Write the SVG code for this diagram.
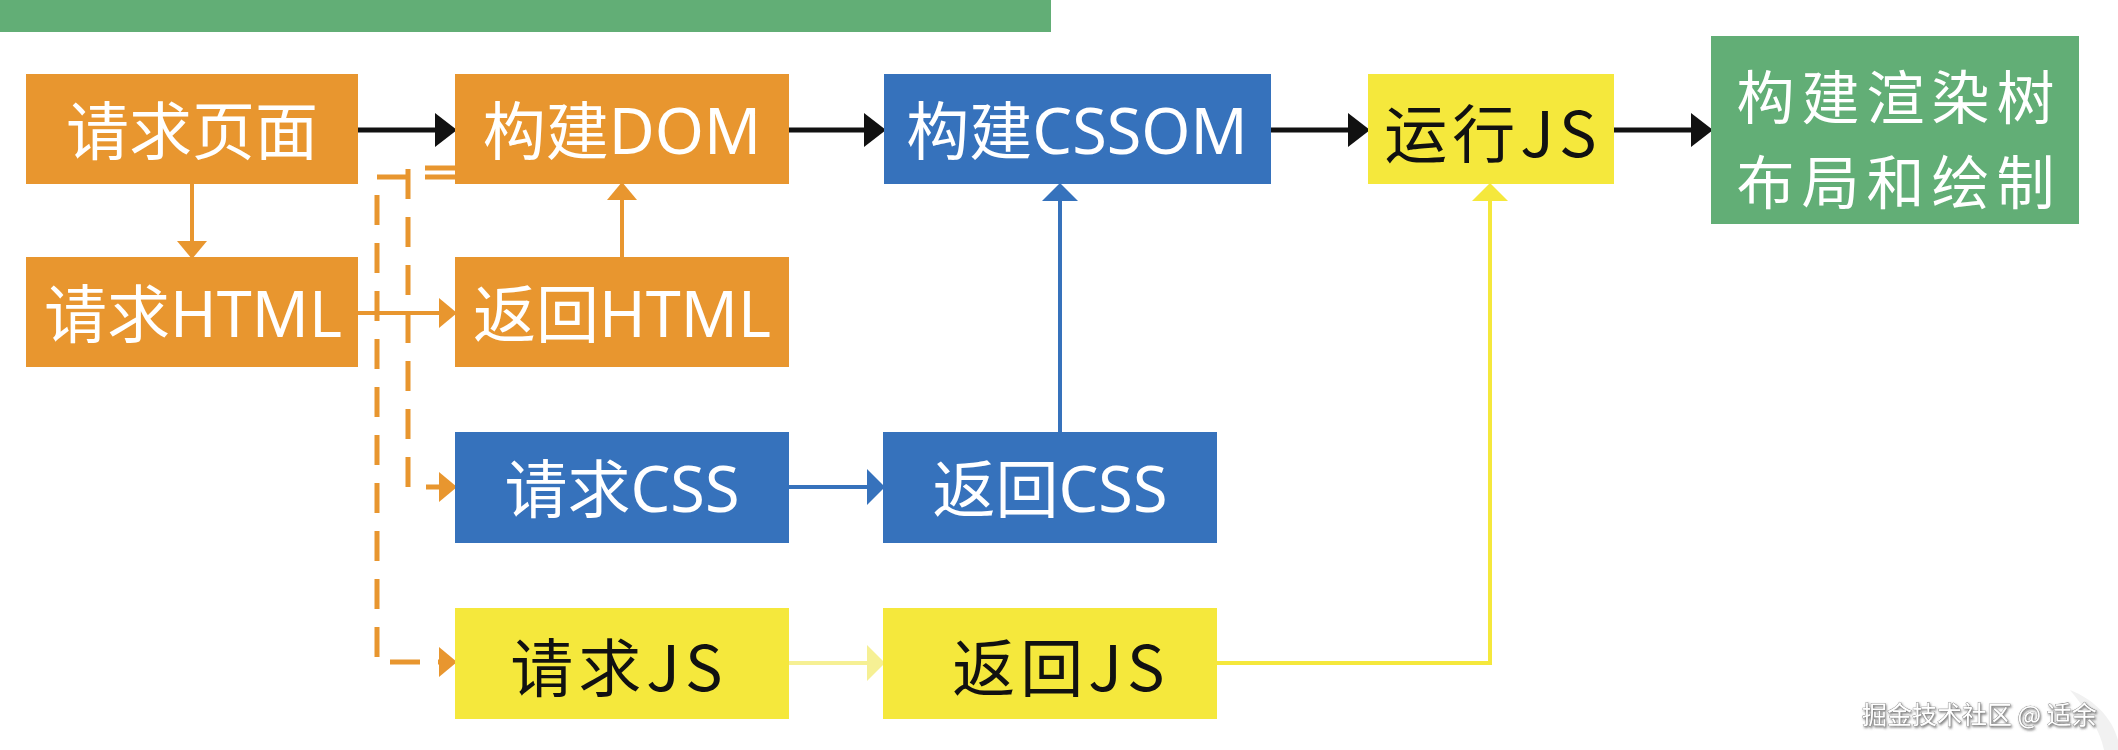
<svg xmlns="http://www.w3.org/2000/svg" width="2118" height="750" viewBox="0 0 2118 750">
<style>
.orange{fill:#E8962F}
.blue{fill:#3672BC}
.yellow{fill:#F5E83C}
.green{fill:#62AE76}
.t{font-family:"Noto Sans","Noto Sans CJK SC",sans-serif;font-size:63px;text-anchor:middle;dominant-baseline:central}
.tj{font-family:"Noto Sans CJK SC","Noto Sans",sans-serif;font-size:63px;letter-spacing:5px;text-anchor:middle;dominant-baseline:central}
.tg{font-family:"Noto Sans CJK SC","Noto Sans",sans-serif;font-size:58px;letter-spacing:7px;text-anchor:middle;dominant-baseline:central}
.tw{fill:#FFFFFF}
.tb{fill:#111111}
.c{fill:none}
.k{stroke:#111111;stroke-width:5}
.o{stroke:#E8962F;stroke-width:4}
.od{stroke:#E8962F;stroke-width:5;stroke-dasharray:30 18}
.b{stroke:#3672BC;stroke-width:4}
.y{stroke:#F5E83C;stroke-width:4}
.yl{stroke:#F6F094;stroke-width:4}
.wm{font-family:"Noto Sans CJK SC","Noto Sans",sans-serif;font-size:25px;fill:#FFFFFF;stroke:#777777;stroke-width:0.7px;paint-order:stroke}
</style>
<defs>
<marker id="ak" markerUnits="userSpaceOnUse" markerWidth="24" markerHeight="36" refX="10" refY="17" orient="auto"><path d="M0,0 L22,17 L0,34 z" fill="#111111"/></marker>
<marker id="ao" markerUnits="userSpaceOnUse" markerWidth="20" markerHeight="32" refX="8" refY="15" orient="auto"><path d="M0,0 L18,15 L0,30 z" fill="#E8962F"/></marker>
<marker id="ab" markerUnits="userSpaceOnUse" markerWidth="20" markerHeight="38" refX="8" refY="18" orient="auto"><path d="M0,0 L18,18 L0,36 z" fill="#3672BC"/></marker>
<marker id="ay" markerUnits="userSpaceOnUse" markerWidth="20" markerHeight="38" refX="8" refY="18" orient="auto"><path d="M0,0 L18,18 L0,36 z" fill="#F5E83C"/></marker>
<marker id="ayl" markerUnits="userSpaceOnUse" markerWidth="20" markerHeight="38" refX="8" refY="18" orient="auto"><path d="M0,0 L18,18 L0,36 z" fill="#F6F094"/></marker>
<filter id="sh" x="-5%" y="-30%" width="110%" height="160%"><feDropShadow dx="1" dy="1.5" stdDeviation="0.8" flood-color="#555555" flood-opacity="0.8"/></filter>
</defs>
<rect width="2118" height="750" fill="#FFFFFF"/>
<rect x="0" y="0" width="1051" height="32" class="green"/>
<path d="M2070,690 C2095,700 2112,718 2118,740 L2118,750 L2104,750 C2100,730 2088,712 2070,690 z" fill="#F1F1F1"/>

<g id="connectors">
<path class="c k" d="M358,130 H445" marker-end="url(#ak)"/>
<path class="c k" d="M789,130 H874" marker-end="url(#ak)"/>
<path class="c k" d="M1271,130 H1358" marker-end="url(#ak)"/>
<path class="c k" d="M1614,130 H1701" marker-end="url(#ak)"/>
<path class="c o" d="M192,184 V249" marker-end="url(#ao)"/>
<path class="c o" d="M358,313 H447" marker-end="url(#ao)"/>
<path class="c o" d="M622,257 V192" marker-end="url(#ao)"/>
<path class="c od" d="M455,168 H408 V487 H447" marker-end="url(#ao)"/>
<path class="c od" d="M455,177 H377 V662 H447" marker-end="url(#ao)"/>
<path class="c b" d="M789,487 H875" marker-end="url(#ab)"/>
<path class="c b" d="M1060,432 V193" marker-end="url(#ab)"/>
<path class="c yl" d="M789,663 H875" marker-end="url(#ayl)"/>
<path class="c y" d="M1217,663 H1490 V193" marker-end="url(#ay)"/>
</g>

<g id="n-request-page"><rect x="26" y="74" width="332" height="110" class="orange"/><text x="192" y="129" class="t tw">请求页面</text></g>
<g id="n-request-html"><rect x="26" y="257" width="332" height="110" class="orange"/><text x="193" y="312" class="t tw">请求HTML</text></g>
<g id="n-build-dom"><rect x="455" y="74" width="334" height="110" class="orange"/><text x="622" y="129" class="t tw">构建DOM</text></g>
<g id="n-return-html"><rect x="455" y="257" width="334" height="110" class="orange"/><text x="622" y="312" class="t tw">返回HTML</text></g>
<g id="n-request-css"><rect x="455" y="432" width="334" height="111" class="blue"/><text x="622" y="487" class="t tw">请求CSS</text></g>
<g id="n-request-js"><rect x="455" y="608" width="334" height="111" class="yellow"/><text x="619" y="663" class="tj tb">请求JS</text></g>
<g id="n-build-cssom"><rect x="884" y="74" width="387" height="110" class="blue"/><text x="1077" y="129" class="t tw">构建CSSOM</text></g>
<g id="n-return-css"><rect x="883" y="432" width="334" height="111" class="blue"/><text x="1050" y="487" class="t tw">返回CSS</text></g>
<g id="n-return-js"><rect x="883" y="608" width="334" height="111" class="yellow"/><text x="1061" y="663" class="tj tb">返回JS</text></g>
<g id="n-run-js"><rect x="1368" y="74" width="246" height="110" class="yellow"/><text x="1493" y="129" class="tj tb">运行JS</text></g>
<g id="n-render"><rect x="1711" y="36" width="368" height="188" class="green"/><text x="1899" y="94" class="tg tw">构建渲染树</text><text x="1899" y="179" class="tg tw">布局和绘制</text></g>

<text x="1862" y="724" class="wm" filter="url(#sh)">掘金技术社区 @ 适余</text>
</svg>
